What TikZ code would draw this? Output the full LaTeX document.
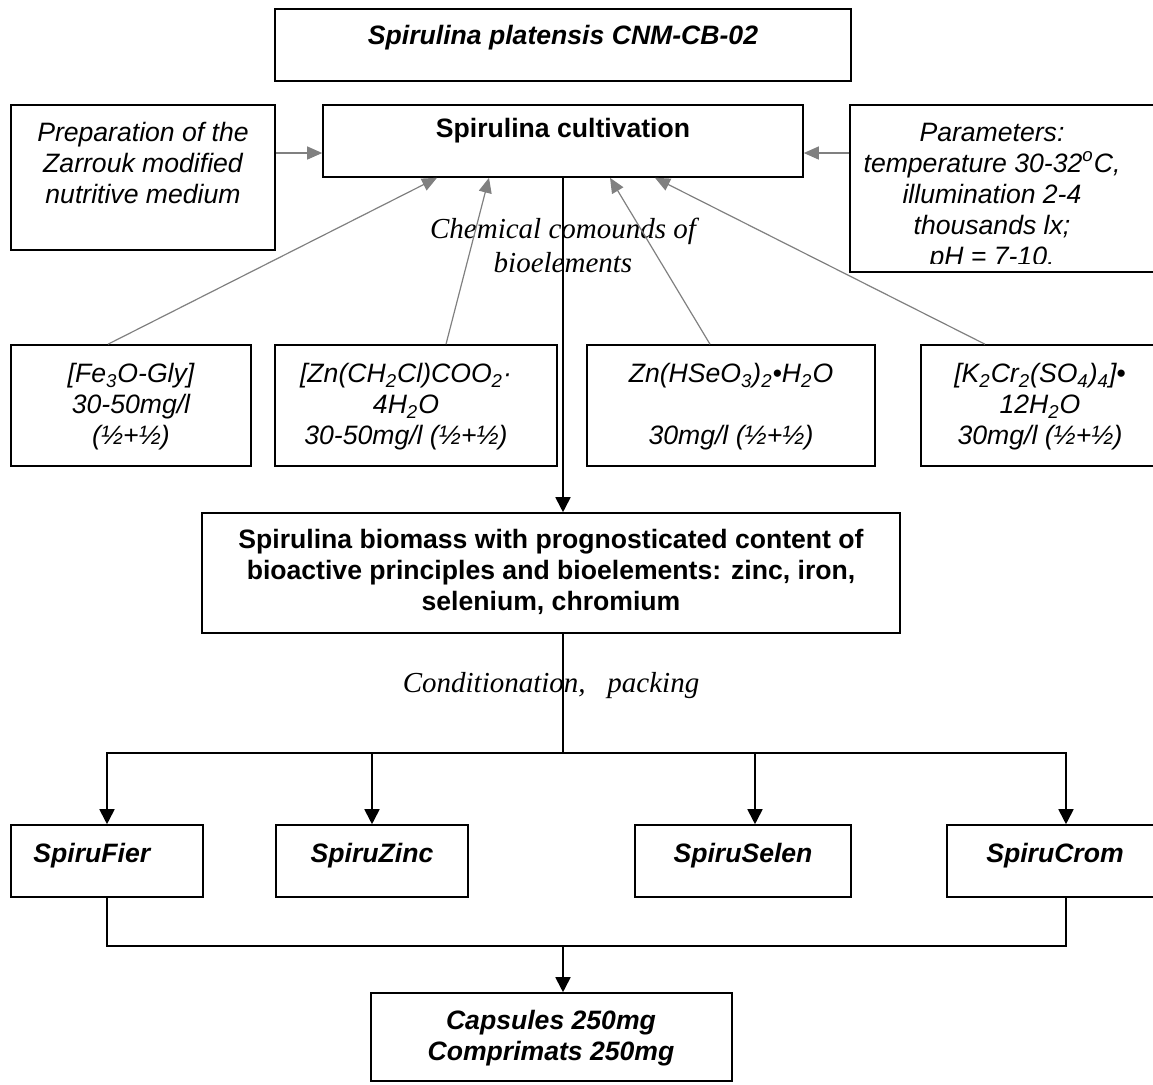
\documentclass[tikz,border=0pt]{standalone}
\usepackage{fontspec}
\setmainfont{Liberation Sans}
\newfontfamily\timesfont{Liberation Serif}
\usepackage{xcolor}
\usetikzlibrary{arrows.meta, fit}
\definecolor{linkgray}{RGB}{128,128,128}
\tikzset{
  box/.style   = {draw, line width=0.8pt, inner sep=0pt},       % plain frame
  txt/.style   = {align=center, inner sep=0pt,
                  font=\fontsize{13.3}{15.5}\selectfont},
  itxt/.style  = {txt, font=\fontsize{13.3}{15.5}\selectfont\itshape},
  btxt/.style  = {txt, font=\fontsize{13.3}{15.5}\selectfont\bfseries},
  bitxt/.style = {txt, font=\fontsize{13.3}{15.5}\selectfont\bfseries\itshape},
  note/.style  = {align=center, inner sep=0pt,
                  font=\fontsize{14.5}{17}\selectfont\timesfont\itshape},
  feed/.style  = {draw=linkgray, line width=0.6pt,
                  -{Triangle[length=7.5pt, width=6.5pt]}},
  link/.style  = {line width=0.9pt},
  flow/.style  = {link, -{Triangle[length=7.5pt, width=7.5pt]}}
}

\begin{document}
\begin{tikzpicture}[x=0.5pt, y=-0.5pt]
  \useasboundingbox (0,0) rectangle (1153,1084);
  \clip (0,0) rectangle (1153,1084);
  % frames
  \node[box, fit={(275,9) (851,81)}]     (strain) {};
  \node[box, fit={(323,105) (803,177)}]  (cult) {};
  \node[box, fit={(11,105) (275,250)}]   (prep) {};
  \node[box, fit={(850,105) (1180,272)}] (param) {};
  \node[box, fit={(11,345) (251,466)}]   (fe) {};
  \node[box, fit={(275,345) (557,466)}]  (zn) {};
  \node[box, fit={(587,345) (875,466)}]  (se) {};
  \node[box, fit={(921,345) (1161,466)}] (kcr) {};
  \node[box, fit={(202,513) (900,633)}]  (biomass) {};
  \node[box, fit={(11,825) (203,897)}]   (fier) {};
  \node[box, fit={(276,825) (468,897)}]  (zinc) {};
  \node[box, fit={(635,825) (851,897)}]  (selen) {};
  \node[box, fit={(947,825) (1185,897)}] (crom) {};
  \node[box, fit={(371,993) (732,1081)}] (caps) {};
  % texts
  \node[bitxt] (t-strain) at (563,38) {Spirulina platensis CNM-CB-02};
  \node[btxt] (t-cult) at (563,131) {Spirulina cultivation};
  \node[itxt] (t-prep) at (143,163) {Preparation of the\\Zarrouk modified\\nutritive medium};
  \node[note] (t-chem) at (563,245) {Chemical comounds of\\bioelements};
  \node[itxt] (t-fe) at (131,407) {[Fe\textsubscript{3}O-Gly]\\30-50mg/l\\(½+½)};
  \node[itxt] (t-zn) at (406,407) {[Zn(CH\textsubscript{2}Cl)COO\textsubscript{2}·\\
    4H\textsubscript{2}O\\30-50mg/l (½+½)};
  \node[itxt] (t-se) at (731,407) {Zn(HSeO\textsubscript{3})\textsubscript{2}•H\textsubscript{2}O\\
    \mbox{}\\30mg/l (½+½)};
  \node[itxt] (t-kcr) at (1040,407) {[K\textsubscript{2}Cr\textsubscript{2}(SO\textsubscript{4})\textsubscript{4}]•\\
    12H\textsubscript{2}O\\30mg/l (½+½)};
  \node[btxt] (t-biomass) at (551,572) {Spirulina biomass with prognosticated content of\\
    bioactive principles and bioelements: zinc, iron,\\selenium, chromium};
  \node[note] (t-pack) at (551,686) {Conditionation,\ \ \ packing};
  \node[bitxt, anchor=west] (t-fier) at (33,856) {SpiruFier};
  \node[bitxt] (t-zinc) at (372,856) {SpiruZinc};
  \node[bitxt] (t-selen) at (743,856) {SpiruSelen};
  \node[bitxt] (t-crom) at (1055,856) {SpiruCrom};
  \node[bitxt] (t-caps) at (551,1038) {Capsules 250mg\\Comprimats 250mg};
  % inputs to the cultivation
  \draw[feed] (prep.east |- 0,153) -- (cult.west |- 0,153);
  \draw[feed] (param.west |- 0,153) -- (cult.east |- 0,153);
  \draw[feed] (fe.north -| 108,0) -- (cult.south -| 437,0);
  \draw[feed] (zn.north -| 446,0) -- (cult.south -| 489,0);
  \draw[feed] (se.north -| 710,0) -- (cult.south -| 610,0);
  \draw[feed] (kcr.north -| 985,0) -- (cult.south -| 655,0);
  % main flow
  \draw[flow] (cult.south) -- (cult.south |- biomass.north);
  \coordinate (split) at (563,753);
  \coordinate (merge) at (563,946);
  \draw[link] (cult.south |- biomass.south) -- (split);
  \draw[flow] (split) -| (fier.north);
  \draw[flow] (split) -| (zinc.north);
  \draw[flow] (split) -| (selen.north -| 755,0);
  \draw[flow] (split) -| (crom.north);
  \draw[link] (fier.south) |- (merge) -| (crom.south);
  \draw[flow] (merge) -- (merge |- caps.north);
  % parameters text, cut off by the frame as in the original
  \begin{scope}
    \clip (850,105) rectangle (1153,263);
    \node[itxt] (t-param) at (992,197) {Parameters:\\temperature 30-32\textsuperscript{o}C,\\
      illumination 2-4\\thousands lx;\\pH = 7-10.};
  \end{scope}
\end{tikzpicture}
\end{document}
